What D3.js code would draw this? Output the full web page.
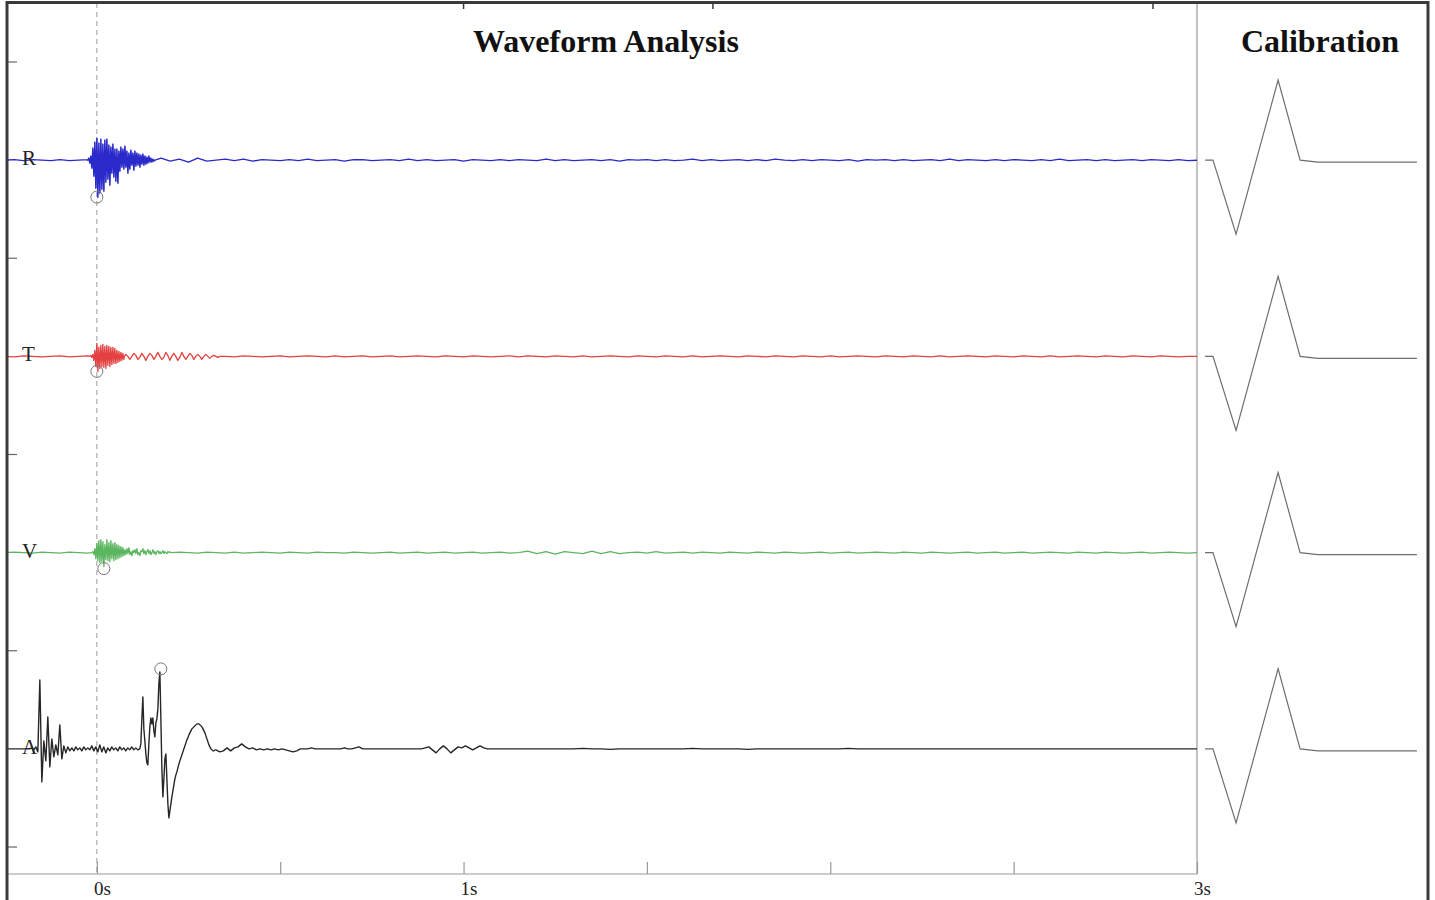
<!DOCTYPE html>
<html><head><meta charset="utf-8">
<script src="https://cdn.jsdelivr.net/npm/d3@7/dist/d3.min.js"></script>
<style>body{margin:0;background:#fff} svg{display:block}</style>
</head><body><svg id="chart" width="1435" height="900"></svg>
<script>
// ---------------- DATA ----------------
const channels = ["R", "T", "V", "A"];
const timeTicks = [0, 0.5, 1, 1.5, 2, 2.5, 3];
const timeTickLabels = ["0s", "", "1s", "", "", "", "3s"];
const topFrameTicks = [1.0, 1.68, 2.88];

// coarse baseline samples (every 0.025 s from -0.25 s to 3.0 s)
const baseStart = -0.25, baseStep = 0.025;
const rBase = [0,0.5,-0.5,0.5,0,-0.5,0.5,-0.5,0,0.5, 0,0,0,0,0,0,0,2,-1,1, -2,2,-1,0,1,-0.5,1,-1,0.5,0,
  -0.5,0.5,-0.5,1,-0.5,0,0.5,-1,0.5,0.5, -0.5,0,0.5,-0.5,1,-0.5,0.5,-0.5,0,0.5, -1,0.5,0,-0.5,0.5,-0.5,0.5,0,-0.5,1,
  -0.5,0.5,-0.5,0,0.5,-0.5,0.5,-1,0.5,0, 0.5,-0.5,0.5,-0.5,0,1,-0.5,0.5,-0.5,0, 0.5,-0.5,0.5,-0.5,1,0,-0.5,0.5,-0.5,0.5,
  0,-0.5,0.5,-1,0.5,0,0.5,-0.5,0.5,-0.5, 0,0.5,-0.5,1,-0.5,0.5,0,-0.5,0.5,-0.5, 0.5,0,-0.5,0.5,-0.5,1,-0.5,0,0.5,-0.5,
  0.5,-0.5,0,0.5,-0.5,0.5,0,-0.5,0.5,-0.5, 0];
const tBase = [0,-0.5,0.5,0,-0.5,0,0.5,-0.5,0,0.5, 0,0,0,0,0,0,0,0,0,-0.5, 0.5,0,-0.5,0.5,0,-0.5,0.5,0,-0.5,0,
  0.5,-0.5,0,0.5,0,-0.5,0.5,-0.5,0,0.5, -0.5,0,0.5,-0.5,0,0.5,0,-0.5,0.5,0, -0.5,0.5,0,-0.5,0,0.5,-0.5,0.5,0,-0.5,
  0.5,0,-0.5,0.5,-0.5,0,0.5,0,-0.5,0.5, 0,-0.5,0.5,0,-0.5,0.5,-0.5,0,0.5,0, -0.5,0.5,0,-0.5,0.5,0,-0.5,0.5,0,-0.5,
  0.5,-0.5,0,0.5,0,-0.5,0.5,0,-0.5,0.5, 0,-0.5,0.5,-0.5,0,0.5,0,-0.5,0.5,0, -0.5,0.5,0,-0.5,0.5,-0.5,0,0.5,0,-0.5,
  0.5,0,-0.5,0.5,0,-0.5,0.5,0,-0.5,0, 0];
const vBase = [0,0.5,0,-0.5,0.5,0,-0.5,0.5,0,-0.5, 0,0,0,0,0,0,0,0,-0.5,0.5, 0,-0.5,0.5,0,-0.5,0.5,-0.5,0,0.5,0,
  -0.5,0.5,0,-0.5,0.5,0,0,-0.5,0.5,0, -0.5,0,0.5,-0.5,0,0.5,-0.5,0,0.5,-0.5, 0,0.5,-0.5,0,0.5,-0.5,0,1.5,-1,1,
  -1.5,1,0,-1,1.5,-1,1,-1,0,0.5, -0.5,1,-0.5,0,0.5,-0.5,0.5,0,-0.5,0.5, 0,-0.5,0.5,0,-0.5,0.5,0,-0.5,0,0.5,
  -0.5,0,0.5,-0.5,0,0.5,0,-0.5,0.5,0, -0.5,0.5,0,-0.5,0,0.5,-0.5,0,0.5,-0.5, 0,0.5,-0.5,0,0.5,0,-0.5,0.5,0,-0.5,
  0.5,0,-0.5,0,0.5,-0.5,0,0.5,0,-0.5, 0];
const aBase = [0,0,0,0,0,0,0,0,0,0, 0,0,0,0,0,0,0,0,0,0, 0,0,0,0,0,0,0,0,0,0, 0,0,0,0,0,0,0,0,0,0,
  0,0,0,0,0,0,0,0,0,0, 0,0,0,0,0,0,0,0,0,0, 0,0,0,0.5,0,0,-0.5,0,0,0, 0,0,0,0,0,0.5,0,0,0,0,
  0,-0.5,0,0,0,0,0,0,0,0, 0,0,0.5,0,0,0,0,0,0,0, 0,0,0,0,0,0,0,0,0,0, 0,0,0,0,0,0,0,0,0,0,
  0,0,0,0,0,0,0,0,0,0, 0];

// detailed segments (start time s, step s, amplitudes)
const rBurstStart = -0.0245, rBurstStep = 0.00273;
const rBurst = [0,2,-3,4,-8,12,-16,18,-28,22, -37,17,-33,21,-29,16,-31,20,-22,21, -19,15,-25,13,-13,16,-17,11,-21,11,
  -23,9,-11,13,-7,11,-9,14,-7,9, -13,7,-9,10,-5,7,-10,9,-6,7, -5,6,-7,5,-4,6,-5,4,-4,3, -3,4,-2,2,-2,1,-1,0];
const tBurstStart = -0.0191, tBurstStep = 0.00273;
const tBurst = [0,1,-1,2,-4,6,-10,13,-15,9, -12,11,-10,12,-11,10,-12,11,-9,10, -10,9,-8,9,-7,8,-7,6,-6,5, -5,4,-4,3,-3];
const tCodaStart = 0.0791, tCodaStep = 0.00545;
const tCoda = [2,0,-3,0,3,1,-3,-1,3,0, -4,0,3,1,-3,0,4,0,-3,-1, 4,1,-4,0,3,0,-4,-1,4,0, -3,0,3,1,-3,0,2,0,-3,0, 2,0,-2,0,1,0,-1,0];
const vBurstStart = -0.0136, vBurstStep = 0.00273;
const vBurst = [0,1,-2,4,-6,9,-8,12,-10,13, -9,11,-14,8,-7,13,-8,10,-9,12, -6,9,-8,10,-7,8,-6,7,-5,6, -4,5,-3,3,-2,4,-1,5,-2,1,
  -3,2,0,3,-1,4,-2,0,-3,2, 1,4,-1,2,-2,1,3,-1,2,-2, 0,3,-1,1,-2,1,2,-1,1,-1, 0,2,-1,1,0,-1,1,0,1,0, 0];
const aPreStart = -0.1827, aPreStep = 0.00545;
const aPre = [0,1,-1,2,-3,69,-33,8,-12,32, -18,10,-8,4,-6,24,-10,3,-4,2, -2,1,-2,2,-1,1,-2,2,-1,1, -1,3,-2,2,-3,4,-3,2,-4,1,
  -2,2,-1,1,-2,2,-1,1,-2,1, -1,2,-1,1,-1,0];
const aEventStart = 0.1200, aEventStep = 0.00273;
const aEvent = [5,30,52,20,8,-5,-14,-16,5,22, 31,25,31,18,12,26,30,40,65,77, 30,-20,-48,-30,-10,-5,-30,-55,-69,-62,
  -55,-48,-42,-36,-30,-26,-23,-19,-15,-12, -9,-6,-3,0,3,6,9,11,14,16, 18,20,21,22,23,24,25,25,25,24, 23,22,20,18,16,13,10,7,4,2,
  0,-1,-2,-2,-1];
const aCodaStart = 0.325, aCodaStep = 0.01;
const aCoda = [-1,-3,-2,1,-2,1,2,5,2,0, 1,-1,0,-1,0,-1,0,-1,0,-1, -2,-3,-2,0,0,0,1,0,0,0, 0,0,0,0,0,1,0,0,1,2,
  0,0,0,0,0,0,0,0,0,0, 0,0,0,0,0,0,0,1,2,-1, -4,0,3,0,-4,-1,2,1,3,1, -1,1,3,1,0,0,0,0];

// picked-phase markers
const markerChannel = ["R", "T", "V", "A"];
const markerTime = [0, 0, 0.019, 0.1745];
const markerAmp = [-37, -15, -16, 80];

// calibration pulse (normalised time 0..1, amplitude)
const calTime = [0.023, 0.059, 0.164, 0.355, 0.455, 0.536, 0.986];
const calAmp = [0, 0, -74, 80, 0, -2, -2];

// ---------------- STYLE ----------------
const colorOf = {R: "#2a2acb", T: "#e44040", V: "#5cb660", A: "#262626"};
const widthOf = {R: 1.5, T: 1.3, V: 1.3, A: 1.4};

// ---------------- BUILD ----------------
const series = {
  R: {base: rBase, segs: [[rBurstStart, rBurstStep, rBurst]]},
  T: {base: tBase, segs: [[tBurstStart, tBurstStep, tBurst], [tCodaStart, tCodaStep, tCoda]]},
  V: {base: vBase, segs: [[vBurstStart, vBurstStep, vBurst]]},
  A: {base: aBase, segs: [[aPreStart, aPreStep, aPre], [aEventStart, aEventStep, aEvent], [aCodaStart, aCodaStep, aCoda]]}
};
function buildPoints(s) {
  const pts = [];
  const ranges = s.segs.map(([t0, dt, v]) => [t0, t0 + dt * (v.length - 1)]);
  s.segs.forEach(([t0, dt, v]) => v.forEach((a, i) => pts.push([t0 + i * dt, a])));
  s.base.forEach((a, k) => {
    const t = baseStart + k * baseStep;
    if (!ranges.some(([a0, a1]) => t >= a0 - 1e-9 && t <= a1 + 1e-9)) pts.push([t, a]);
  });
  return pts.sort((p, q) => p[0] - q[0]);
}

const svg = d3.select("#chart");
const x = d3.scaleLinear().domain([-0.245, 3]).range([7, 1197]);
const band = d3.scaleBand().domain(channels).range([62, 847]).padding(0);
const bw = band.bandwidth();
const yFor = ch => d3.scaleLinear().domain([-bw / 2, bw / 2]).range([band(ch) + bw, band(ch)]);
const calX = d3.scaleLinear().domain([0, 1]).range([1200, 1420]);

svg.append("defs").append("clipPath").attr("id", "wclip")
  .append("rect").attr("x", 8).attr("y", 0).attr("width", 1189).attr("height", 880);

// zero-time dashed line
svg.append("line").attr("x1", x(0)).attr("x2", x(0)).attr("y1", 3).attr("y2", 874)
  .attr("stroke", "#9a9a9a").attr("stroke-width", 1).attr("stroke-dasharray", "5,4");

// panel divider
svg.append("line").attr("x1", x(3)).attr("x2", x(3)).attr("y1", 3).attr("y2", 874)
  .attr("stroke", "#9c9c9c").attr("stroke-width", 1.2);

// bottom time axis
const axis = d3.axisBottom(x).tickValues(timeTicks)
  .tickFormat((d, i) => timeTickLabels[i]).tickSizeInner(-12).tickSizeOuter(0).tickPadding(7);
const gx = svg.append("g").attr("transform", "translate(0,874)").call(axis);
gx.select(".domain").attr("stroke", "#999").attr("stroke-width", 1.2).attr("d", `M${7},0H${x(3)}`);
gx.selectAll(".tick line").attr("stroke", "#999").attr("stroke-width", 1.2);
gx.selectAll(".tick text").attr("font-family", "'Liberation Serif', serif").attr("font-size", 19)
  .attr("fill", "#222").attr("dx", 5).attr("dy", "0.72em");

// left channel-band ticks
const bounds = channels.map(c => band(c)).concat([band(channels[channels.length - 1]) + bw]);
svg.selectAll(".lt").data(bounds).enter().append("line")
  .attr("x1", 7).attr("x2", 17).attr("y1", d => d).attr("y2", d => d)
  .attr("stroke", "#666").attr("stroke-width", 1.2);

// waveforms
const wg = svg.append("g").attr("clip-path", "url(#wclip)");
channels.forEach(ch => {
  const y = yFor(ch);
  const line = d3.line().x(d => x(d[0])).y(d => y(d[1]));
  wg.append("path").datum(buildPoints(series[ch])).attr("d", line)
    .attr("fill", "none").attr("stroke", colorOf[ch]).attr("stroke-width", widthOf[ch])
    .attr("stroke-linejoin", "round");
});

// markers
markerChannel.forEach((ch, i) => {
  svg.append("circle").attr("cx", x(markerTime[i])).attr("cy", yFor(ch)(markerAmp[i])).attr("r", 6)
    .attr("fill", "none").attr("stroke", "#777").attr("stroke-width", 1);
});

// channel labels
channels.forEach(ch => {
  svg.append("text").attr("x", 22).attr("y", yFor(ch)(0) + 5).text(ch)
    .attr("font-family", "'Liberation Serif', serif").attr("font-size", 21).attr("fill", "#222");
});

// calibration pulses
channels.forEach(ch => {
  const y = yFor(ch);
  const line = d3.line().x((d, i) => calX(calTime[i])).y(d => y(d));
  svg.append("path").datum(calAmp).attr("d", line).attr("fill", "none")
    .attr("stroke", "#6e6e6e").attr("stroke-width", 1.2);
});

// titles
svg.append("text").attr("x", (x(-0.245) + x(3)) / 2 + 4).attr("y", 52).attr("text-anchor", "middle")
  .text("Waveform Analysis").attr("font-family", "'Liberation Serif', serif").attr("font-weight", "bold")
  .attr("font-size", 32).attr("fill", "#111");
svg.append("text").attr("x", (calX(0) + calX(1)) / 2 + 10).attr("y", 52).attr("text-anchor", "middle")
  .text("Calibration").attr("font-family", "'Liberation Serif', serif").attr("font-weight", "bold")
  .attr("font-size", 32).attr("fill", "#111");

// outer frame
svg.append("path").attr("d", `M7,900V2.5H1428V900`).attr("fill", "none")
  .attr("stroke", "#3a3a3a").attr("stroke-width", 3);
svg.selectAll(".tt").data(topFrameTicks).enter().append("line")
  .attr("x1", d => x(d)).attr("x2", d => x(d)).attr("y1", 2).attr("y2", 9)
  .attr("stroke", "#3a3a3a").attr("stroke-width", 1.5);
</script></body></html>
